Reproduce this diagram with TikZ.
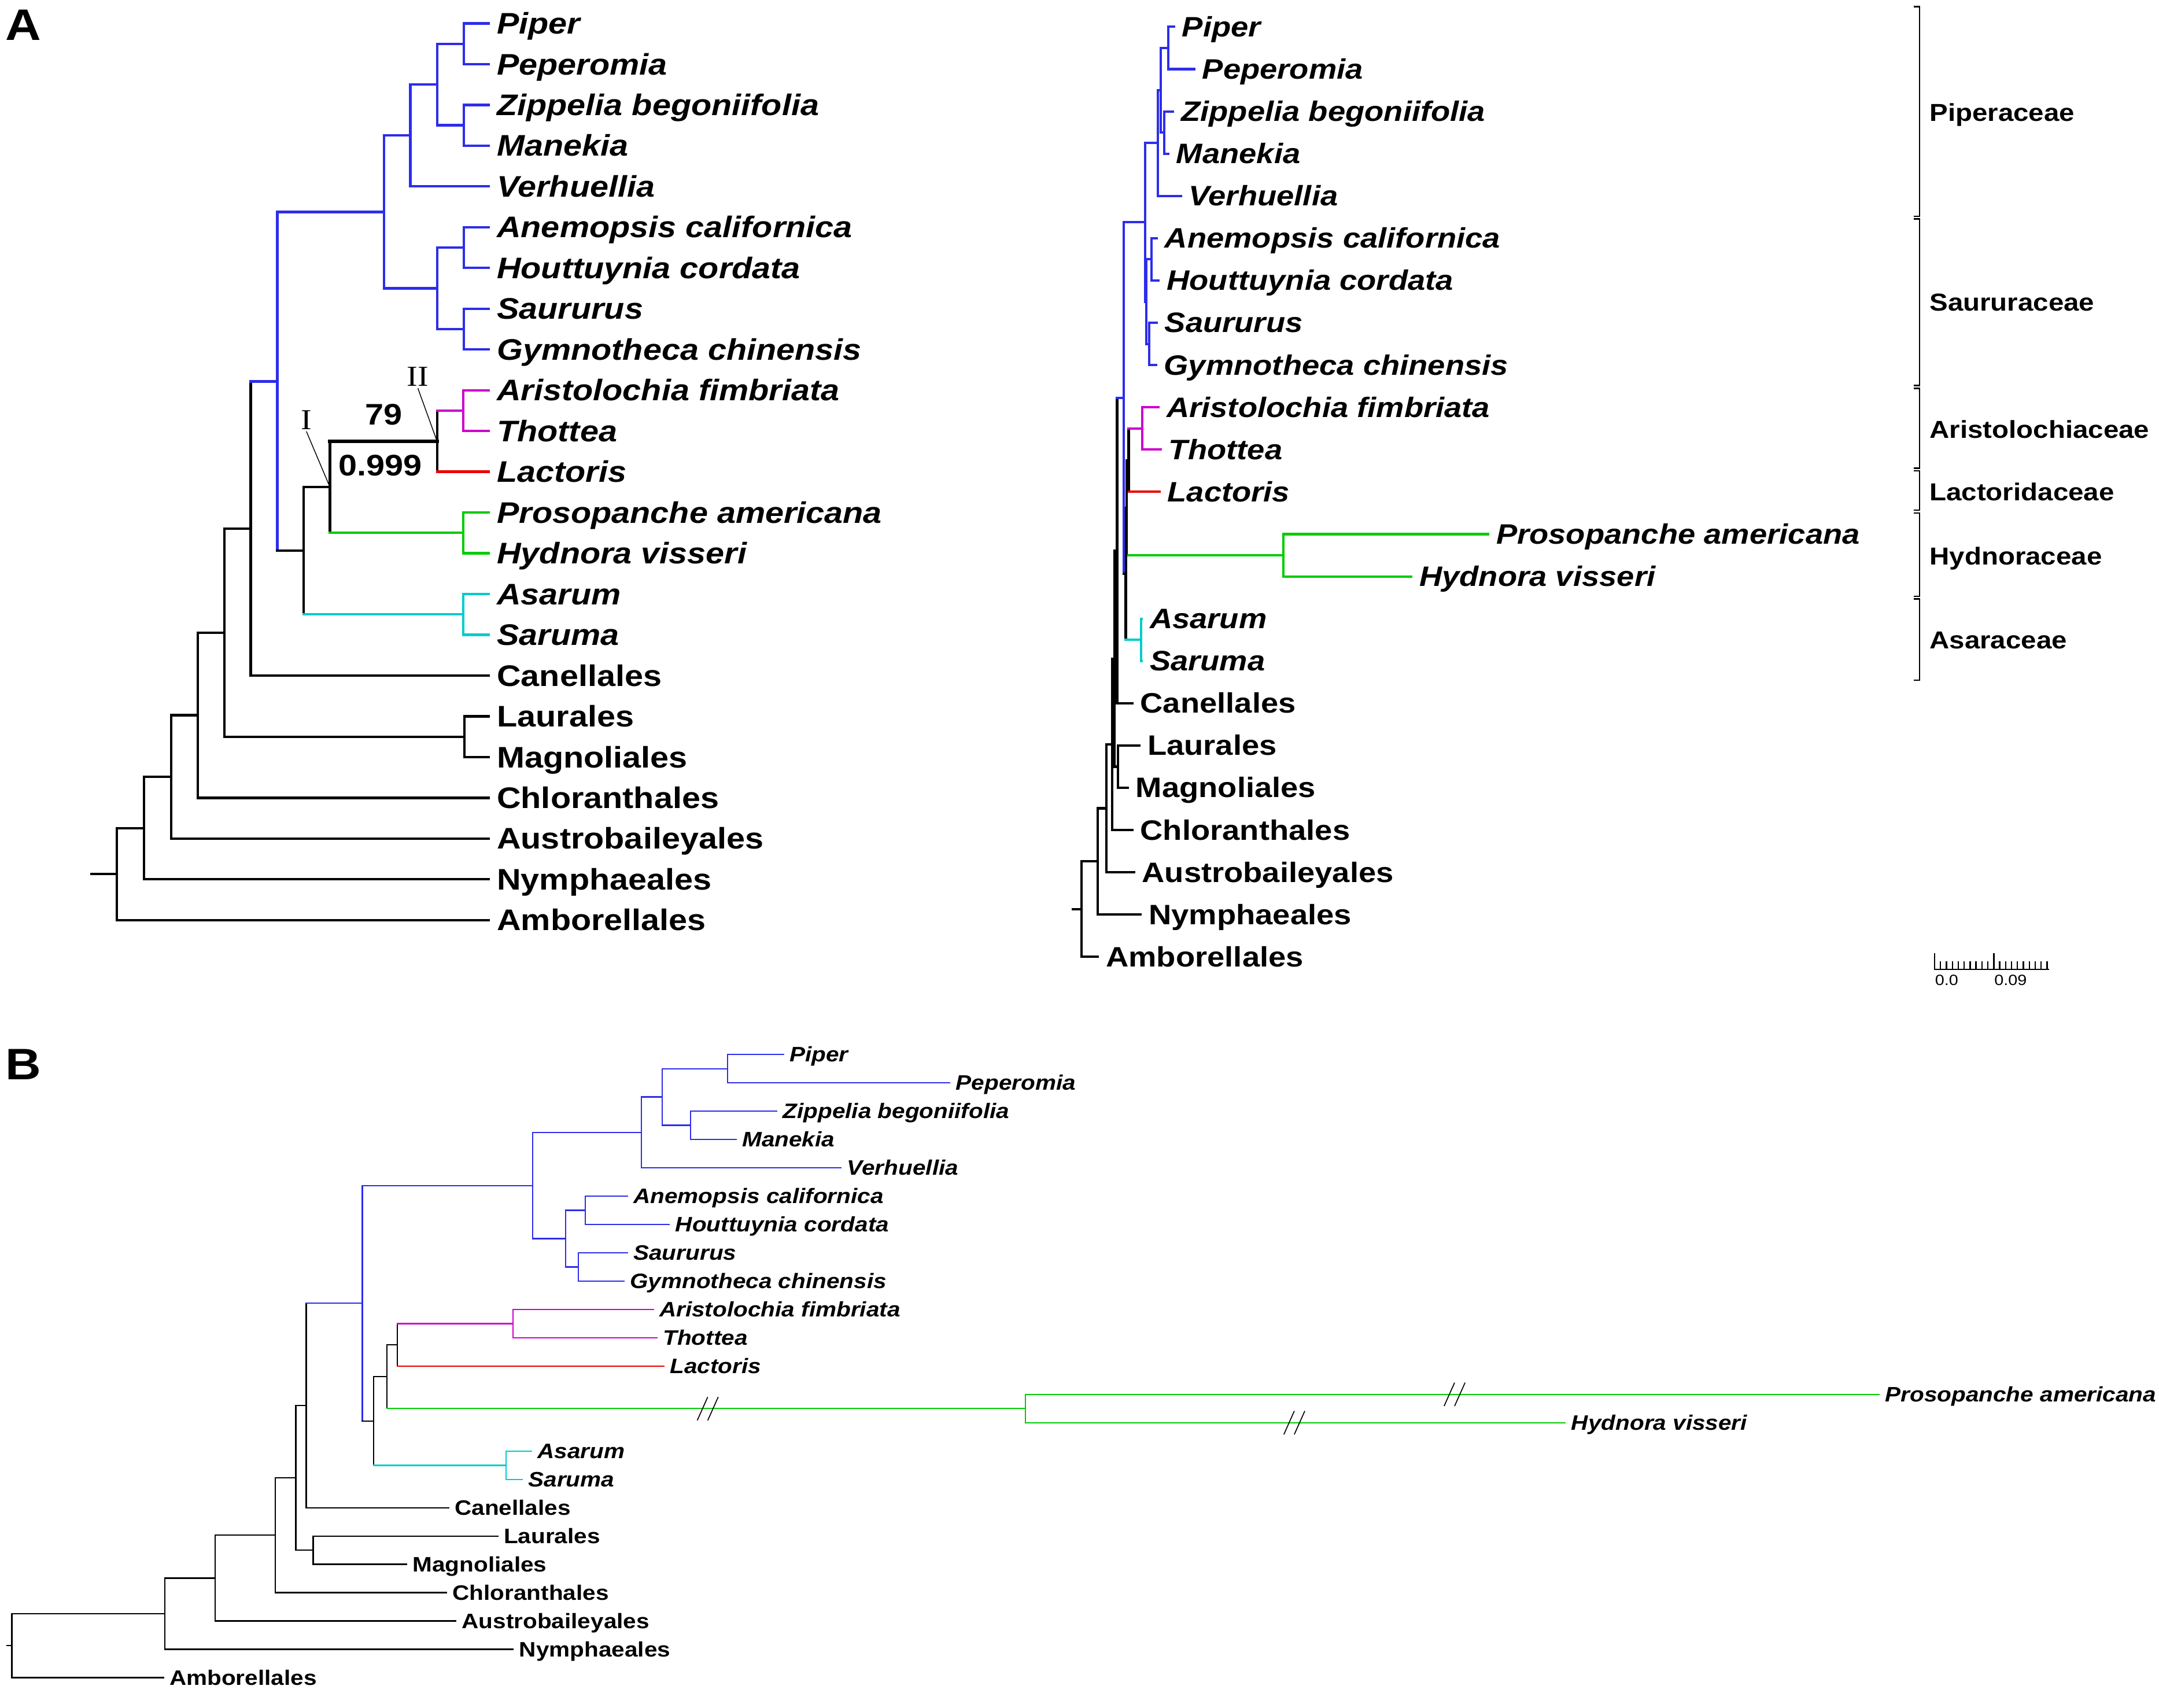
\documentclass[tikz,border=0pt]{standalone}
\usepackage{fontspec}
\setmainfont{Liberation Sans}[FakeStretch=1.12]
\newfontfamily\romanmark{Liberation Serif}[FakeStretch=1.12]
\definecolor{piperales}{RGB}{45,45,235}
\definecolor{aristolochia}{RGB}{204,0,204}
\definecolor{lactoris}{RGB}{235,0,0}
\definecolor{hydnora}{RGB}{0,204,0}
\definecolor{asarum}{RGB}{0,204,204}
\tikzstyle{leafA}=[anchor=west, inner xsep=2.5pt, inner ysep=0pt, text height=7.6pt, text depth=0pt, font=\fontsize{10.8}{10.8}\selectfont\bfseries]
\tikzstyle{leafR}=[anchor=west, inner xsep=2.5pt, inner ysep=0pt, text height=7.1pt, text depth=0pt, font=\fontsize{10.2}{10.2}\selectfont\bfseries]
\tikzstyle{leafB}=[anchor=west, inner xsep=2pt, inner ysep=0pt, text height=5.3pt, text depth=0pt, font=\fontsize{7.6}{7.6}\selectfont\bfseries]
\tikzstyle{family}=[anchor=west, inner sep=0pt, text height=6.2pt, text depth=0pt, font=\fontsize{8.9}{8.9}\selectfont\bfseries]
\tikzstyle{support}=[inner sep=0pt, font=\fontsize{10.8}{10.8}\selectfont\bfseries]
\tikzstyle{nodemark}=[inner sep=0.5pt, font=\fontsize{10.5}{10.5}\romanmark]
\tikzstyle{panel}=[inner sep=0pt, font=\fontsize{16}{16}\selectfont\bfseries]
\tikzstyle{scalenum}=[anchor=west, inner sep=0pt, font=\fontsize{5.4}{5.4}\selectfont]
\tikzstyle{bracket}=[line width=0.5pt]
\tikzstyle{breakmark}=[line width=0.35pt]
\newcommand{\clade}[6]{%
  \draw[#1] (#2 |- #3) -- (#2 |- #5);
  \draw[#4] (#2 |- #3) -- (#3);
  \draw[#6] (#2 |- #5) -- (#5);
}
\begin{document}
\begin{tikzpicture}[x=0.5pt, y=-0.5pt]
  \useasboundingbox[fill=white] (0,0) rectangle (1568,1240);
  \node[panel] (labA) at (17,18) {A};
  \node[panel] (labB) at (17,773) {B};

  \begin{scope}[line width=0.9pt, line cap=rect]
    \foreach \n/\t [count=\i from 0] in {aPiper/Piper, aPeperomia/Peperomia, aZippelia/Zippelia begoniifolia, aManekia/Manekia, aVerhuellia/Verhuellia, aAnemopsis/Anemopsis californica, aHouttuynia/Houttuynia cordata, aSaururus/Saururus, aGymnotheca/Gymnotheca chinensis, aAristolochia/Aristolochia fimbriata, aThottea/Thottea, aLactoris/Lactoris, aProsopanche/Prosopanche americana, aHydnora/Hydnora visseri, aAsarum/Asarum, aSaruma/Saruma}
      \node[leafA] (\n) at (355,{17+29.6*\i}) {\itshape\t};
    \foreach \n [count=\i from 16] in {Canellales, Laurales, Magnoliales, Chloranthales, Austrobaileyales, Nymphaeales, Amborellales}
      \node[leafA] (a\n) at (355,{17+29.6*\i}) {\n};
    \coordinate (aPP) at (337,31.8);
    \coordinate (aZM) at (337,91.0);
    \coordinate (aPZ) at (317.6,61.4);
    \coordinate (aPipc) at (298,98.4);
    \coordinate (aAH) at (337,179.8);
    \coordinate (aSG) at (337,239.0);
    \coordinate (aSau) at (317.6,209.4);
    \coordinate (aCore) at (279,153.9);
    \coordinate (aAT) at (336.5,298.2);
    \coordinate (aII) at (317.4,320.4);
    \coordinate (aHy) at (336.5,387.0);
    \coordinate (aI) at (239.6,353.7);
    \coordinate (aAs) at (336.5,446.2);
    \coordinate (aX) at (220.4,400.0);
    \coordinate (aPipl) at (201.4,277.0);
    \coordinate (aPC) at (182.1,383.8);
    \coordinate (aLM) at (337.3,535.0);
    \coordinate (aMa) at (162.9,459.4);
    \coordinate (aCh) at (143.6,519.4);
    \coordinate (aAu) at (124.3,564.2);
    \coordinate (aNy) at (104.6,601.4);
    \coordinate (aRoot) at (84.9,634.8);
    \coordinate (aStub) at (66.4,634.8);
    \clade{piperales}{aPP}{aPiper.west}{piperales}{aPeperomia.west}{piperales}
    \clade{piperales}{aZM}{aZippelia.west}{piperales}{aManekia.west}{piperales}
    \clade{piperales}{aPZ}{aPP}{piperales}{aZM}{piperales}
    \clade{piperales}{aPipc}{aPZ}{piperales}{aVerhuellia.west}{piperales}
    \clade{piperales}{aAH}{aAnemopsis.west}{piperales}{aHouttuynia.west}{piperales}
    \clade{piperales}{aSG}{aSaururus.west}{piperales}{aGymnotheca.west}{piperales}
    \clade{piperales}{aSau}{aAH}{piperales}{aSG}{piperales}
    \clade{piperales}{aCore}{aPipc}{piperales}{aSau}{piperales}
    \clade{aristolochia}{aAT}{aAristolochia.west}{aristolochia}{aThottea.west}{aristolochia}
    \clade{black}{aII}{aAT}{aristolochia}{aLactoris.west}{lactoris}
    \clade{hydnora}{aHy}{aProsopanche.west}{hydnora}{aHydnora.west}{hydnora}
    \clade{black}{aI}{aII}{black,line width=1.3pt}{aHy}{hydnora}
    \clade{asarum}{aAs}{aAsarum.west}{asarum}{aSaruma.west}{asarum}
    \clade{black}{aX}{aI}{black}{aAs}{asarum}
    \clade{piperales}{aPipl}{aCore}{piperales}{aX}{black}
    \clade{black}{aPC}{aPipl}{piperales}{aCanellales.west}{black}
    \clade{black}{aLM}{aLaurales.west}{black}{aMagnoliales.west}{black}
    \clade{black}{aMa}{aPC}{black}{aLM}{black}
    \clade{black}{aCh}{aMa}{black}{aChloranthales.west}{black}
    \clade{black}{aAu}{aCh}{black}{aAustrobaileyales.west}{black}
    \clade{black}{aNy}{aAu}{black}{aNymphaeales.west}{black}
    \clade{black}{aRoot}{aNy}{black}{aAmborellales.west}{black}
    \draw (aStub) -- (aRoot);
  \end{scope}
  \node[support] (bs79) at (278.5,301) {79};
  \node[support] (pp999) at (276,338) {0.999};
  \node[nodemark] (markI) at (222.5,305) {I};
  \node[nodemark] (markII) at (303.5,273.7) {II};
  \draw[line width=0.3pt] (markI.south) -- (aI);
  \draw[line width=0.3pt] (markII.south) -- (aII);

  \begin{scope}[line width=0.85pt, line cap=rect]
    \foreach \n/\x/\t [count=\i from 0] in {rPiper/852.6/Piper, rPeperomia/867.3/Peperomia, rZippelia/852/Zippelia begoniifolia, rManekia/848.4/Manekia, rVerhuellia/857.5/Verhuellia, rAnemopsis/840/Anemopsis californica, rHouttuynia/841.5/Houttuynia cordata, rSaururus/840/Saururus, rGymnotheca/839.5/Gymnotheca chinensis, rAristolochia/841.4/Aristolochia fimbriata, rThottea/843/Thottea, rLactoris/842/Lactoris, rProsopanche/1080.8/Prosopanche americana, rHydnora/1025/Hydnora visseri, rAsarum/829.2/Asarum, rSaruma/829.2/Saruma}
      \node[leafR] (\n) at (\x,{19.5+30.7*\i}) {\itshape\t};
    \foreach \n/\x [count=\i from 16] in {Canellales/822.3, Laurales/827.5, Magnoliales/819, Chloranthales/822.3, Austrobaileyales/823.5, Nymphaeales/828.5, Amborellales/797.4}
      \node[leafR] (r\n) at (\x,{19.5+30.7*\i}) {\n};
    \coordinate (rPP) at (848.4,34.85);
    \coordinate (rZM) at (845.6,96.25);
    \coordinate (rPZ) at (843,65.55);
    \coordinate (rPipc) at (841.1,103.9);
    \coordinate (rAH) at (836.3,188.35);
    \coordinate (rSG) at (834.7,249.75);
    \coordinate (rSau) at (832.7,219.05);
    \coordinate (rCore) at (831.6,161.5);
    \coordinate (rAT) at (829.5,311.15);
    \coordinate (rII) at (819.7,334.2);
    \coordinate (rHy) at (932,403.25);
    \coordinate (rI) at (818.3,368.7);
    \coordinate (rAs) at (828.8,464.65);
    \coordinate (rX) at (817.6,416.7);
    \coordinate (rPipl) at (816.2,289.1);
    \coordinate (rPC) at (811.3,399.9);
    \coordinate (rLM) at (812,556.75);
    \coordinate (rMa) at (809.5,478.3);
    \coordinate (rCh) at (807.8,540.55);
    \coordinate (rAu) at (803.7,587);
    \coordinate (rNy) at (797.4,625.6);
    \coordinate (rRoot) at (785.5,660.25);
    \coordinate (rStub) at (779.3,660.25);
    \clade{piperales}{rPP}{rPiper.west}{piperales}{rPeperomia.west}{piperales}
    \clade{piperales}{rZM}{rZippelia.west}{piperales}{rManekia.west}{piperales}
    \clade{piperales}{rPZ}{rPP}{piperales}{rZM}{piperales}
    \clade{piperales}{rPipc}{rPZ}{piperales}{rVerhuellia.west}{piperales}
    \clade{piperales}{rAH}{rAnemopsis.west}{piperales}{rHouttuynia.west}{piperales}
    \clade{piperales}{rSG}{rSaururus.west}{piperales}{rGymnotheca.west}{piperales}
    \clade{piperales}{rSau}{rAH}{piperales}{rSG}{piperales}
    \clade{piperales}{rCore}{rPipc}{piperales}{rSau}{piperales}
    \clade{aristolochia}{rAT}{rAristolochia.west}{aristolochia}{rThottea.west}{aristolochia}
    \clade{black}{rII}{rAT}{aristolochia}{rLactoris.west}{lactoris}
    \clade{hydnora}{rHy}{rProsopanche.west}{hydnora}{rHydnora.west}{hydnora}
    \clade{black}{rI}{rII}{black}{rHy}{hydnora}
    \clade{asarum}{rAs}{rAsarum.west}{asarum}{rSaruma.west}{asarum}
    \clade{black}{rX}{rI}{black}{rAs}{asarum}
    \clade{piperales}{rPipl}{rCore}{piperales}{rX}{black}
    \clade{black}{rPC}{rPipl}{piperales}{rCanellales.west}{black}
    \clade{black}{rLM}{rLaurales.west}{black}{rMagnoliales.west}{black}
    \clade{black}{rMa}{rPC}{black}{rLM}{black}
    \clade{black}{rCh}{rMa}{black}{rChloranthales.west}{black}
    \clade{black}{rAu}{rCh}{black}{rAustrobaileyales.west}{black}
    \clade{black}{rNy}{rAu}{black}{rNymphaeales.west}{black}
    \clade{black}{rRoot}{rNy}{black}{rAmborellales.west}{black}
    \draw (rStub) -- (rRoot);
  \end{scope}

  \foreach \ya/\yb in {4.8/157, 159/280, 282/340, 342/370.5, 372.5/433, 435/494}
    \draw[bracket] (1390,\ya) -- (1394,\ya) -- (1394,\yb) -- (1390,\yb);
  \node[family] (fPiperaceae) at (1401,82) {Piperaceae};
  \node[family] (fSaururaceae) at (1401,219.4) {Saururaceae};
  \node[family] (fAristolochiaceae) at (1401,312) {Aristolochiaceae};
  \node[family] (fLactoridaceae) at (1401,357.5) {Lactoridaceae};
  \node[family] (fHydnoraceae) at (1401,404) {Hydnoraceae};
  \node[family] (fAsaraceae) at (1401,465) {Asaraceae};

  \draw[bracket] (1404.5,704) -- (1488.2,704);
  \foreach \k in {0,...,19}
    \draw[bracket] ({1405+4.3*\k},704) -- ({1405+4.3*\k},698.3);
  \draw[bracket] (1405,704) -- (1405,692.3);
  \draw[bracket] (1448,704) -- (1448,692.3);
  \node[scalenum] (s0) at (1405,712) {0.0};
  \node[scalenum] (s9) at (1448,712) {0.09};

  \begin{scope}[line width=0.5pt, line cap=rect]
    \foreach \n/\x/\t [count=\i from 0] in {bPiper/569/Piper, bPeperomia/689.7/Peperomia, bZippelia/564/Zippelia begoniifolia, bManekia/534.5/Manekia, bVerhuellia/610.8/Verhuellia, bAnemopsis/455.6/Anemopsis californica, bHouttuynia/486/Houttuynia cordata, bSaururus/455.6/Saururus, bGymnotheca/453/Gymnotheca chinensis, bAristolochia/474.4/Aristolochia fimbriata, bThottea/477/Thottea, bLactoris/482/Lactoris, bProsopanche/1364.6/Prosopanche americana, bHydnora/1136.7/Hydnora visseri, bAsarum/385.8/Asarum, bSaruma/379.2/Saruma}
      \node[leafB] (\n) at (\x,{765.8+20.57*\i}) {\itshape\t};
    \foreach \n/\x [count=\i from 16] in {Canellales/325.8, Laurales/361.4, Magnoliales/295.2, Chloranthales/324.2, Austrobaileyales/330.9, Nymphaeales/372.6, Amborellales/118.6}
      \node[leafB] (b\n) at (\x,{765.8+20.57*\i}) {\n};
    \coordinate (bPP) at (528.3,776.1);
    \coordinate (bZM) at (501.4,817.2);
    \coordinate (bPZ) at (481,796.65);
    \coordinate (bPipc) at (465.7,822.4);
    \coordinate (bAH) at (425,878.95);
    \coordinate (bSG) at (420,920.1);
    \coordinate (bSau) at (410.8,899.5);
    \coordinate (bCore) at (386.8,860.95);
    \coordinate (bAT) at (372.6,961.2);
    \coordinate (bII) at (288.6,976.65);
    \coordinate (bHy) at (744.7,1022.9);
    \coordinate (bI) at (281,999.8);
    \coordinate (bAs) at (367.5,1064.1);
    \coordinate (bX) at (271.3,1031.9);
    \coordinate (bPipl) at (263.2,946.4);
    \coordinate (bPC) at (222.4,1020.7);
    \coordinate (bLM) at (227.5,1125.8);
    \coordinate (bMa) at (214.8,1073.2);
    \coordinate (bCh) at (200,1114.9);
    \coordinate (bAu) at (156.3,1146);
    \coordinate (bNy) at (119.6,1171.9);
    \coordinate (bRoot) at (8.65,1195.1);
    \coordinate (bStub) at (5,1195.1);
    \clade{piperales}{bPP}{bPiper.west}{piperales}{bPeperomia.west}{piperales}
    \clade{piperales}{bZM}{bZippelia.west}{piperales}{bManekia.west}{piperales}
    \clade{piperales}{bPZ}{bPP}{piperales}{bZM}{piperales}
    \clade{piperales}{bPipc}{bPZ}{piperales}{bVerhuellia.west}{piperales}
    \clade{piperales}{bAH}{bAnemopsis.west}{piperales}{bHouttuynia.west}{piperales}
    \clade{piperales}{bSG}{bSaururus.west}{piperales}{bGymnotheca.west}{piperales}
    \clade{piperales}{bSau}{bAH}{piperales}{bSG}{piperales}
    \clade{piperales}{bCore}{bPipc}{piperales}{bSau}{piperales}
    \clade{aristolochia}{bAT}{bAristolochia.west}{aristolochia}{bThottea.west}{aristolochia}
    \clade{black}{bII}{bAT}{aristolochia}{bLactoris.west}{lactoris}
    \clade{hydnora}{bHy}{bProsopanche.west}{hydnora}{bHydnora.west}{hydnora}
    \clade{black}{bI}{bII}{black}{bHy}{hydnora}
    \clade{asarum}{bAs}{bAsarum.west}{asarum}{bSaruma.west}{asarum}
    \clade{black}{bX}{bI}{black}{bAs}{asarum}
    \clade{piperales}{bPipl}{bCore}{piperales}{bX}{black}
    \clade{black}{bPC}{bPipl}{piperales}{bCanellales.west}{black}
    \clade{black}{bLM}{bLaurales.west}{black}{bMagnoliales.west}{black}
    \clade{black}{bMa}{bPC}{black}{bLM}{black}
    \clade{black}{bCh}{bMa}{black}{bChloranthales.west}{black}
    \clade{black}{bAu}{bCh}{black}{bAustrobaileyales.west}{black}
    \clade{black}{bNy}{bAu}{black}{bNymphaeales.west}{black}
    \clade{black}{bRoot}{bNy}{black}{bAmborellales.west}{black}
    \draw (bStub) -- (bRoot);
  \end{scope}
  \foreach \bx/\by in {514/1023, 1056.4/1012.6, 940/1033.2}
    \foreach \o in {0,7.6}
      \draw[breakmark] (\bx-7.6+\o,\by+8.5) -- (\bx+\o,\by-8.5);
\end{tikzpicture}
\end{document}
